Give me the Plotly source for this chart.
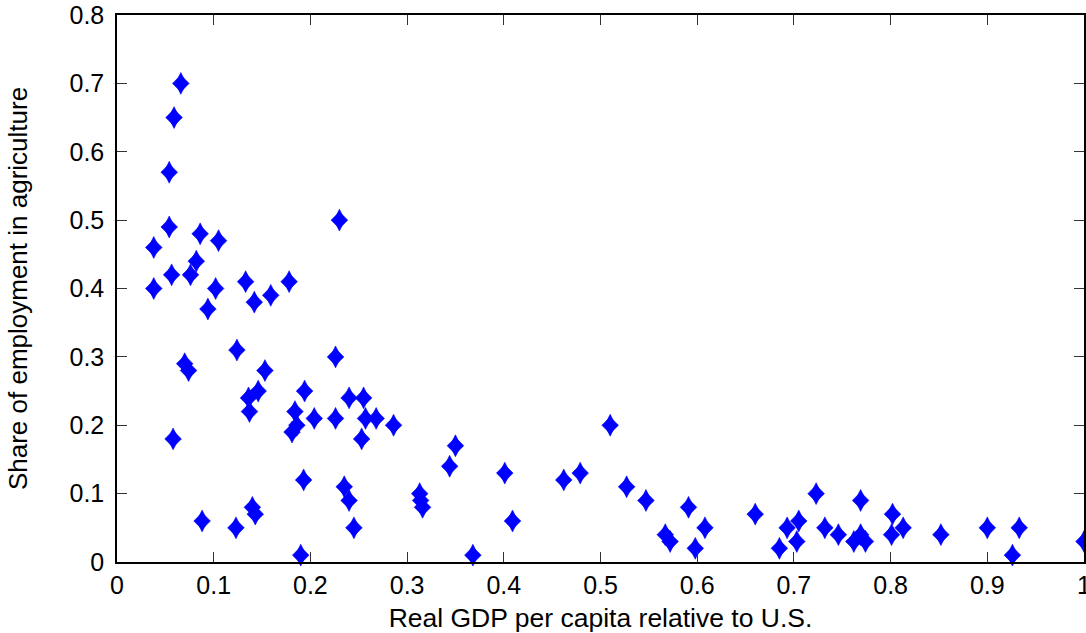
import plotly.graph_objects as go

# Real GDP per capita relative to U.S.
gdp_rel = [0.038, 0.038, 0.054, 0.054, 0.059, 0.0565, 0.066, 0.058, 0.070, 0.074,
           0.076, 0.082, 0.086, 0.088, 0.094, 0.102, 0.105, 0.124, 0.123, 0.133,
           0.136, 0.137, 0.140, 0.143, 0.142, 0.146, 0.153, 0.159, 0.178, 0.181,
           0.184, 0.186, 0.190, 0.193, 0.194, 0.204, 0.226, 0.226, 0.230, 0.235,
           0.240, 0.240, 0.245, 0.253, 0.255, 0.257, 0.268, 0.286, 0.313, 0.314,
           0.316, 0.344, 0.350, 0.368, 0.401, 0.409, 0.462, 0.479, 0.510, 0.527,
           0.547, 0.567, 0.572, 0.591, 0.598, 0.608, 0.660, 0.685, 0.693, 0.703,
           0.705, 0.723, 0.732, 0.746, 0.762, 0.769, 0.769, 0.774, 0.802, 0.801,
           0.813, 0.852, 0.900, 0.926, 0.933, 1.000]

# Share of employment in agriculture
agri_share = [0.46, 0.40, 0.57, 0.49, 0.65, 0.42, 0.70, 0.18, 0.29, 0.28,
              0.42, 0.44, 0.48, 0.06, 0.37, 0.40, 0.47, 0.31, 0.05, 0.41,
              0.24, 0.22, 0.08, 0.07, 0.38, 0.25, 0.28, 0.39, 0.41, 0.19,
              0.22, 0.20, 0.01, 0.12, 0.25, 0.21, 0.30, 0.21, 0.50, 0.11,
              0.09, 0.24, 0.05, 0.18, 0.24, 0.21, 0.21, 0.20, 0.10, 0.09,
              0.08, 0.14, 0.17, 0.01, 0.13, 0.06, 0.12, 0.13, 0.20, 0.11,
              0.09, 0.04, 0.03, 0.08, 0.02, 0.05, 0.07, 0.02, 0.05, 0.03,
              0.06, 0.10, 0.05, 0.04, 0.03, 0.09, 0.04, 0.03, 0.07, 0.04,
              0.05, 0.04, 0.05, 0.01, 0.05, 0.03]

x_ticks = [0, 0.1, 0.2, 0.3, 0.4, 0.5, 0.6, 0.7, 0.8, 0.9, 1]
x_tick_labels = ["0", "0.1", "0.2", "0.3", "0.4", "0.5", "0.6", "0.7", "0.8", "0.9", "1"]
y_ticks = [0, 0.1, 0.2, 0.3, 0.4, 0.5, 0.6, 0.7, 0.8]
y_tick_labels = ["0", "0.1", "0.2", "0.3", "0.4", "0.5", "0.6", "0.7", "0.8"]

BLUE = "#0000FF"
FONT = "Arial, Liberation Sans, Helvetica, sans-serif"

fig = go.Figure()
# Union of a square diamond and a tall diamond approximates MATLAB's diamond marker
fig.add_trace(go.Scatter(
    x=gdp_rel, y=agri_share, mode="markers", cliponaxis=False, showlegend=False,
    marker=dict(symbol="diamond", size=12.8, color=BLUE, line=dict(width=0.6, color=BLUE)),
))
fig.add_trace(go.Scatter(
    x=gdp_rel, y=agri_share, mode="markers", cliponaxis=False, showlegend=False,
    marker=dict(symbol="diamond-tall", size=15.6, color=BLUE, line=dict(width=0.6, color=BLUE)),
))

axis_common = dict(
    showgrid=False, zeroline=False, showline=True, linecolor="black", linewidth=1.5,
    mirror="ticks", ticks="inside", ticklen=10, tickwidth=1, tickcolor="#333333",
    tickfont=dict(family=FONT, size=25, color="black"),
    ticklabeloverflow="allow", automargin=False,
)

fig.update_layout(
    width=1086, height=633,
    margin=dict(l=117, r=2, t=15, b=71, autoexpand=False),
    paper_bgcolor="white", plot_bgcolor="white",
    font=dict(family=FONT, color="black"),
    xaxis=dict(range=[0, 1], tickvals=x_ticks, ticktext=x_tick_labels,
               title=dict(text="Real GDP per capita relative to U.S.",
                          font=dict(family=FONT, size=26.5), standoff=11),
               **axis_common),
    yaxis=dict(range=[0, 0.8], tickvals=y_ticks, ticktext=y_tick_labels,
               ticklabelstandoff=6,
               title=dict(text="Share of employment in agriculture",
                          font=dict(family=FONT, size=26), standoff=34),
               **axis_common),
)

fig.write_html("out.html")
